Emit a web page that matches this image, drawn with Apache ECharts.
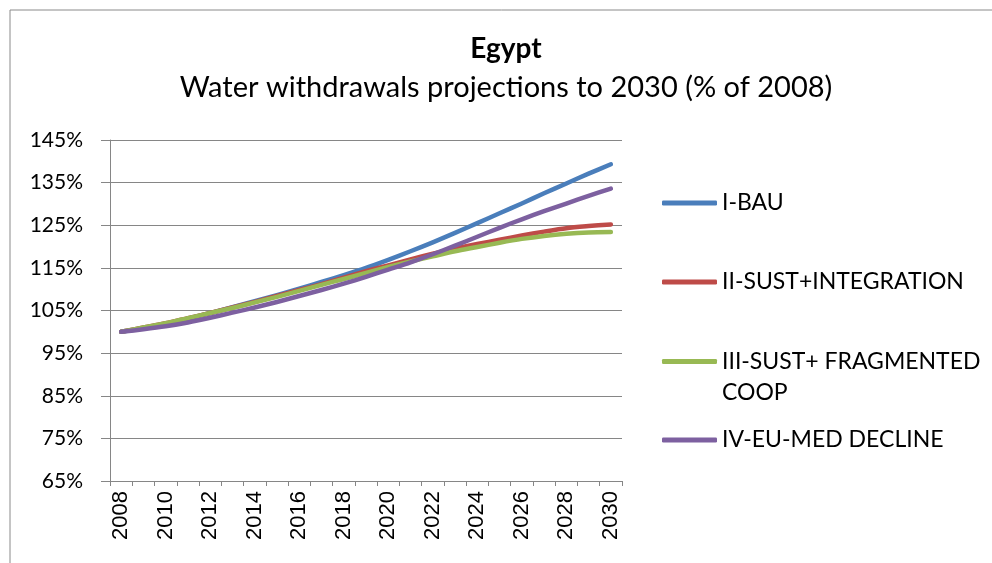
<!DOCTYPE html>
<html>
<head>
<meta charset="utf-8">
<script src="https://cdn.jsdelivr.net/npm/echarts@6/dist/echarts.min.js"></script>
<style>
html,body{margin:0;padding:0;background:#fff;}
#chart{width:992px;height:563px;}
</style>
</head>
<body>
<div id="chart"></div>
<script>
const years = ['2008','2009','2010','2011','2012','2013','2014','2015','2016','2017','2018','2019','2020','2021','2022','2023','2024','2025','2026','2027','2028','2029','2030'];
const seriesNames = ['I-BAU','II-SUST+INTEGRATION','III-SUST+ FRAGMENTED\nCOOP','IV-EU-MED DECLINE'];
const bau = [100,100.9,101.9,103.1,104.4,105.8,107.2,108.6,110.1,111.7,113.3,115.0,116.9,118.9,121.0,123.2,125.5,127.8,130.1,132.5,134.8,137.1,139.3];
const sustIntegration = [100,101.0,102.0,103.2,104.4,105.7,107.0,108.4,109.8,111.2,112.7,114.2,115.6,117.0,118.3,119.5,120.6,121.6,122.6,123.5,124.3,124.8,125.2];
const sustFragmented = [100,101.0,102.0,103.2,104.4,105.6,106.9,108.2,109.6,111.0,112.4,113.8,115.2,116.5,117.7,118.9,119.9,120.9,121.8,122.5,123.0,123.3,123.4];
const euMedDecline = [100,100.6,101.3,102.2,103.3,104.5,105.7,107.0,108.4,109.8,111.3,112.9,114.6,116.3,118.2,120.2,122.3,124.4,126.4,128.3,130.1,131.9,133.6];
const yMin = 65, yMax = 145, yStep = 10;
const colors = ['#4A7EBB','#BE4B48','#98B954','#7D60A0'];
const title = 'Egypt';
const subtitle = 'Water withdrawals projections to 2030 (% of 2008)';

const values = [bau, sustIntegration, sustFragmented, euMedDecline];
const chart = echarts.init(document.getElementById('chart'), null, {renderer:'canvas'});
const legendTops = [187.5, 266.5, 315, 424.5];
const option = {
  animation: false,
  backgroundColor: '#ffffff',
  graphic: [{
    type: 'rect', left: 7.5, top: 7.5, silent: true,
    shape: {width: 1100, height: 700},
    style: {fill: 'none', stroke: '#8a8a8a', lineWidth: 1}
  }],
  title: {
    text: title, subtext: subtitle,
    left: 506, top: 35, textAlign: 'center', itemGap: 10, padding: 0,
    textStyle: {fontFamily: 'Lato', fontWeight: 'bold', fontSize: 28, color: '#000'},
    subtextStyle: {fontFamily: 'Lato', fontSize: 29, color: '#000'}
  },
  legend: seriesNames.map((n, i) => ({
    data: [n], orient: 'vertical', left: 662, top: legendTops[i], padding: 0,
    icon: 'roundRect', itemWidth: 55, itemHeight: 5,
    itemStyle: {color: colors[i]},
    formatter: i === 2 ? (name => '\n' + name) : undefined,
    textStyle: {fontFamily: 'Lato', fontSize: 23, color: '#000', lineHeight: 31}
  })),
  grid: {left: 110, right: 370, top: 140, bottom: 82},
  xAxis: {
    type: 'category', data: years, boundaryGap: true,
    axisLine: {lineStyle: {color: '#868686', width: 1}},
    axisTick: {show: true, interval: 0, length: 5, lineStyle: {color: '#868686'}},
    axisLabel: {interval: 1, rotate: 90, margin: 10, color: '#000', fontFamily: 'Liberation Sans', fontSize: 22}
  },
  yAxis: {
    type: 'value', min: yMin, max: yMax, interval: yStep,
    axisLine: {show: true, lineStyle: {color: '#868686', width: 1}},
    axisTick: {show: true, length: 9, lineStyle: {color: '#868686'}},
    splitLine: {lineStyle: {color: '#868686', width: 1}},
    axisLabel: {formatter: v => v + '%', margin: 27, color: '#000', fontFamily: 'Lato', fontSize: 21}
  },
  series: seriesNames.map((n, i) => ({
    name: n, type: 'line', data: values[i], smooth: 0.3, showSymbol: false,
    lineStyle: {color: colors[i], width: 4.5, cap: 'round', join: 'round'},
    itemStyle: {color: colors[i]}
  }))
};
chart.setOption(option);
</script>
</body>
</html>
